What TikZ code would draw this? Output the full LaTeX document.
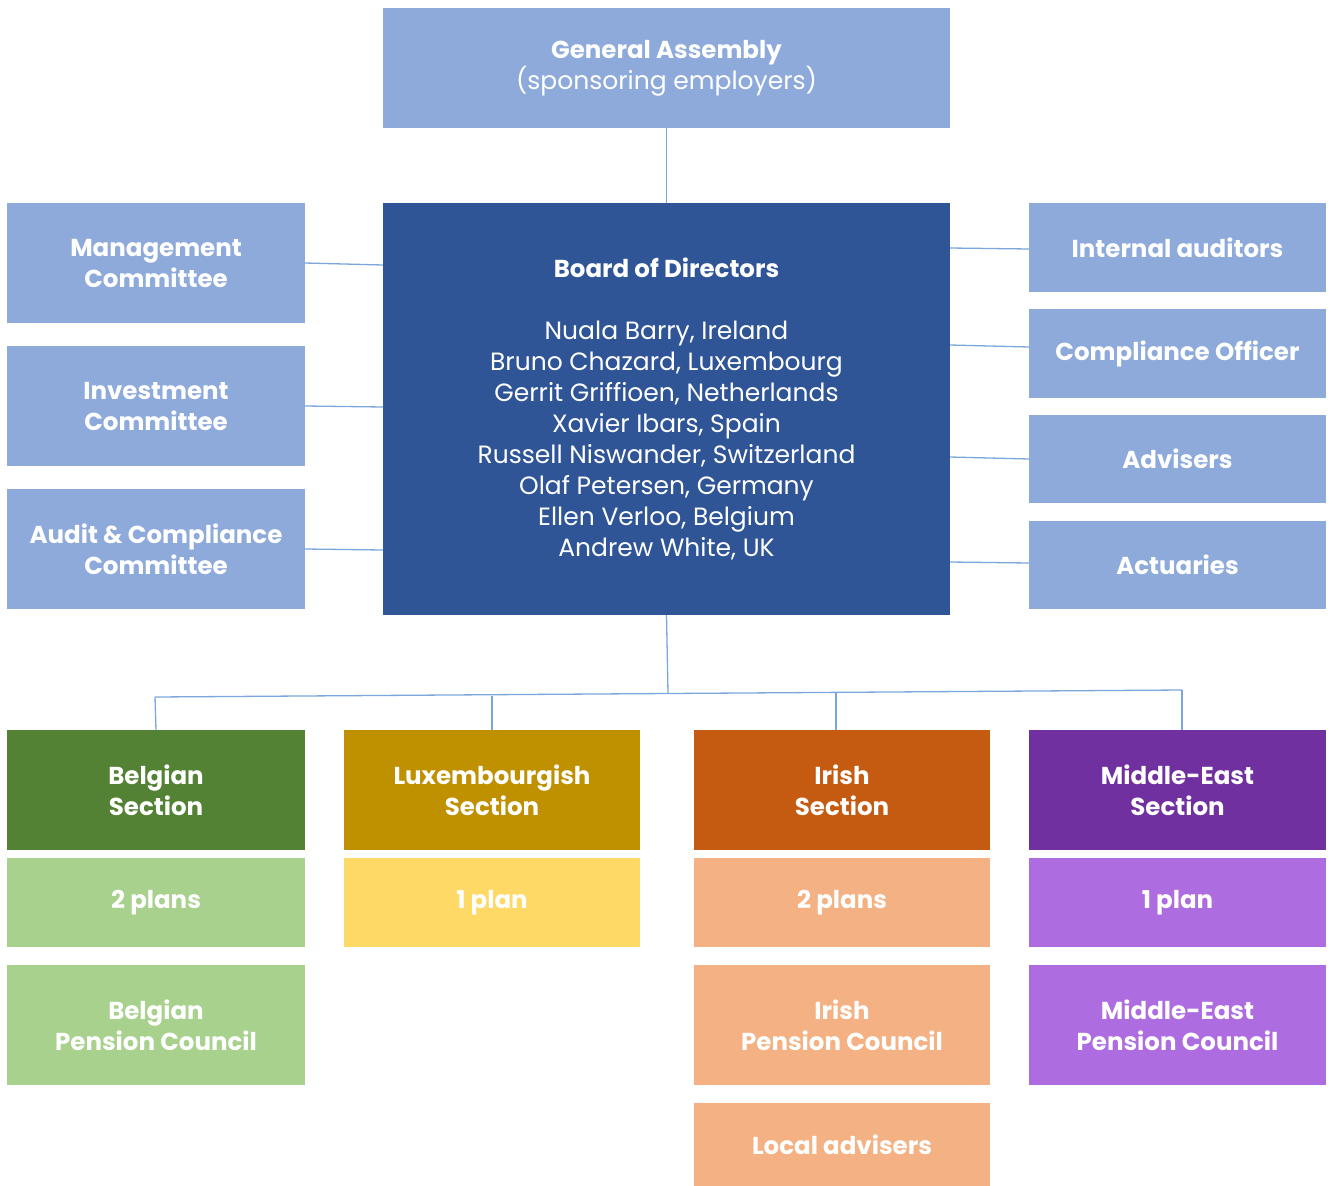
\documentclass[tikz,border=0pt]{standalone}
\usepackage{fontspec}
\setmainfont{Poppins}
\definecolor{lblue}{HTML}{8EAADB}
\definecolor{dblue}{HTML}{2F5597}
\definecolor{conn}{HTML}{7BA7DC}
\definecolor{dgreen}{HTML}{548235}
\definecolor{lgreen}{HTML}{A9D18E}
\definecolor{dgold}{HTML}{BF9000}
\definecolor{lgold}{HTML}{FFD966}
\definecolor{dorange}{HTML}{C55A11}
\definecolor{lorange}{HTML}{F4B183}
\definecolor{dpurple}{HTML}{7030A0}
\definecolor{lpurple}{HTML}{AD6DE0}
\newcommand{\rg}{\fontsize{25}{31}\selectfont\mdseries}
\tikzset{
  box/.style={rectangle, inner sep=0pt, outer sep=0pt, text=white, align=center,
    font=\fontsize{24.5}{31}\selectfont\bfseries},
  conline/.style={draw=conn, line width=1.3pt},
}
\newcommand{\bx}[7]{% name, x1, y1, x2, y2, colour, text
  \node[box, fill=#6, minimum width={(#4-#2)*1pt}, minimum height={(#5-#3)*1pt}]
    (#1) at ({(#2+#4)/2},{(#3+#5)/2}) {#7};}
\begin{document}
\begin{tikzpicture}[x=1pt,y=-1pt]
\useasboundingbox (0,0) rectangle (1331,1186);
% top
\bx{ga}{383}{8}{950}{128}{lblue}{General Assembly\\\rg (sponsoring employers)}
\bx{bod}{383}{203}{950}{615}{dblue}{Board of Directors\\[31pt]\rg Nuala Barry, Ireland\\\rg Bruno Chazard, Luxembourg\\\rg Gerrit Griffioen, Netherlands\\\rg Xavier Ibars, Spain\\\rg Russell Niswander, Switzerland\\\rg Olaf Petersen, Germany\\\rg Ellen Verloo, Belgium\\\rg Andrew White, UK}
% left committees
\bx{mc}{7}{203}{305}{323}{lblue}{Management\\Committee}
\bx{ic}{7}{346}{305}{466}{lblue}{Investment\\Committee}
\bx{ac}{7}{489}{305}{609}{lblue}{Audit \& Compliance\\Committee}
% right
\bx{ia}{1029}{203}{1326}{292}{lblue}{Internal auditors}
\bx{co}{1029}{309}{1326}{398}{lblue}{Compliance Officer}
\bx{adv}{1029}{415}{1326}{503}{lblue}{Advisers}
\bx{act}{1029}{521}{1326}{609}{lblue}{Actuaries}
% sections
\bx{bs}{7}{730}{305}{850}{dgreen}{Belgian\\Section}
\bx{ls}{344}{730}{640}{850}{dgold}{Luxembourgish\\Section}
\bx{is}{694}{730}{990}{850}{dorange}{Irish\\Section}
\bx{ms}{1029}{730}{1326}{850}{dpurple}{Middle-East\\Section}
% plans
\bx{bp}{7}{858}{305}{947}{lgreen}{2 plans}
\bx{lp}{344}{858}{640}{947}{lgold}{1 plan}
\bx{ip}{694}{858}{990}{947}{lorange}{2 plans}
\bx{mp}{1029}{858}{1326}{947}{lpurple}{1 plan}
% councils
\bx{bc}{7}{965}{305}{1085}{lgreen}{Belgian\\Pension Council}
\bx{ic2}{694}{965}{990}{1085}{lorange}{Irish\\Pension Council}
\bx{mc2}{1029}{965}{1326}{1085}{lpurple}{Middle-East\\Pension Council}
\bx{la}{694}{1103}{990}{1186}{lorange}{Local advisers}
% connectors
\draw[conline] (mc.east |- 0,263) -- (bod.west |- 0,265);
\draw[conline] (ic.east |- 0,406) -- (bod.west |- 0,407);
\draw[conline] (ac.east |- 0,549) -- (bod.west |- 0,550);
\draw[conline] (bod.east |- 0,248) -- (ia.west |- 0,249);
\draw[conline] (bod.east |- 0,345) -- (co.west |- 0,347);
\draw[conline] (bod.east |- 0,457) -- (adv.west |- 0,459);
\draw[conline] (bod.east |- 0,562) -- (act.west |- 0,563);
\draw[conline] (ga.south) -- (bod.north);
\coordinate (hub) at (668,693);
\coordinate (bL) at (155,697);
\coordinate (bR) at (1182,690);
\draw[conline] (bod.south) -- (hub);
\draw[conline] (bL) -- (bR);
\draw[conline] (bL) -- (bs.north);
\draw[conline] (492,696) -- (ls.north);
\draw[conline] (836,692) -- (is.north -| 836,0);
\draw[conline] (bR) -- (ms.north -| 1182,0);
\end{tikzpicture}
\end{document}
